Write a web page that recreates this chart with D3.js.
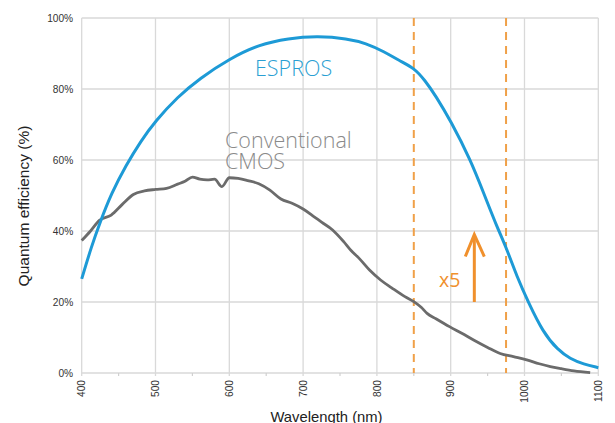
<!DOCTYPE html>
<html>
<head>
<meta charset="utf-8">
<script src="https://cdn.jsdelivr.net/npm/d3@7"></script>
<style>
  body { margin: 0; background: #fff; }
  .tick_labels { font-family: "Liberation Sans", Arial, sans-serif; font-size: 10.2px; fill: #333; }
  .axis_labels { font-family: "Liberation Sans", Arial, sans-serif; fill: #222; }
  .series_labels { font-family: "Open Sans", Lato, sans-serif; font-weight: 350; font-size: 21.5px; }
</style>
</head>
<body>
<svg id="svg-qe" width="615" height="423"></svg>
<script>
var svg = d3.select("#svg-qe");

// values: wavelength (nm) -> quantum efficiency (%)
var espros_wl = [400, 413, 425, 440, 460, 480, 500, 530, 560, 600, 640, 680, 720, 760, 785, 810, 830, 850, 865, 880, 900, 927, 945, 963, 975, 990, 1005, 1025, 1045, 1062, 1080, 1100];
var espros_qe = [26.5, 35.5, 42.5, 50.5, 58.5, 65.3, 71, 77.8, 83, 88.5, 92.5, 94.3, 94.9, 94.2, 92.9, 90.5, 88, 86, 82.5, 78, 71, 60, 50.5, 41, 35.5, 27, 20, 11.5, 6.5, 4, 2.5, 1.5];

var cmos_wl = [400, 412, 424, 440, 455, 470, 485, 500, 515, 530, 540, 550, 560, 570, 580, 590, 600, 612, 625, 640, 655, 670, 685, 700, 715, 725, 740, 755, 765, 775, 790, 805, 820, 838, 850, 860, 868, 880, 899, 915, 931, 950, 967, 985, 1003, 1020, 1035, 1050, 1067, 1089];
var cmos_qe = [37.3, 40, 43, 44.5, 47.5, 50.3, 51.3, 51.7, 52, 53.2, 54, 55.2, 54.6, 54.4, 54.6, 52.5, 55, 54.8, 54.2, 53.3, 51.5, 49, 47.8, 46.2, 44, 42.5, 40.3, 37, 34.5, 32.5, 29, 26.2, 24, 21.5, 20.1, 18.5, 16.8, 15.3, 13, 11.2, 9.3, 7.2, 5.5, 4.6, 3.7, 2.6, 1.8, 1.2, 0.6, 0.1];

var x_ticks = [400, 500, 600, 700, 800, 900, 1000, 1100];
var x_minor = [450, 550, 650, 750, 850, 950, 1050];
var y_ticks = [0, 20, 40, 60, 80, 100];
var band_wl = [850, 975];            // dashed markers
var arrow_wl = 932, arrow_qe = [20, 39];

var blue = "#1d9ad6", gray = "#6b6b6b", orange = "#f0a048", arrowOrange = "#f0902c";

var xScale = d3.scaleLinear().domain([400, 1100]).range([81.7, 598.3]);
var yScale = d3.scaleLinear().domain([0, 100]).range([373, 18]);

// grid
svg.selectAll("vgrid")
    .data(x_ticks)
    .enter()
    .append("line")
    .attr("x1", d => xScale(d))
    .attr("x2", d => xScale(d))
    .attr("y1", yScale(100))
    .attr("y2", yScale(0) + 3)
    .style("stroke", "#d9d9d9")
    .style("stroke-width", 1.3);
svg.selectAll("hgrid")
    .data(y_ticks)
    .enter()
    .append("line")
    .attr("x1", xScale(400))
    .attr("x2", xScale(1100))
    .attr("y1", d => yScale(d))
    .attr("y2", d => yScale(d))
    .style("stroke", "#d9d9d9")
    .style("stroke-width", 1.3);
svg.selectAll("minor")
    .data(x_minor)
    .enter()
    .append("line")
    .attr("x1", d => xScale(d))
    .attr("x2", d => xScale(d))
    .attr("y1", yScale(0))
    .attr("y2", yScale(0) + 3)
    .style("stroke", "#d0d0d0")
    .style("stroke-width", 1.2);

// tick labels
svg.selectAll("ylabels")
    .data(y_ticks)
    .enter()
    .append("text")
    .attr("class", "tick_labels")
    .attr("x", xScale(400) - 8.5)
    .attr("y", d => yScale(d) + 3.7)
    .style("text-anchor", "end")
    .text(d => d + "%");
svg.selectAll("xlabels")
    .data(x_ticks)
    .enter()
    .append("text")
    .attr("class", "tick_labels")
    .attr("transform", d => "translate(" + (xScale(d) + 3.7) + "," + (yScale(0) + 7) + ") rotate(-90)")
    .style("text-anchor", "end")
    .text(d => d);

// axis titles
svg.append("text")
    .attr("class", "axis_labels")
    .attr("transform", "translate(28.5,206) rotate(-90)")
    .style("text-anchor", "middle")
    .style("font-size", "15.5px")
    .text("Quantum efficiency (%)");
svg.append("text")
    .attr("class", "axis_labels")
    .attr("x", 326.5)
    .attr("y", 421.5)
    .style("text-anchor", "middle")
    .style("font-size", "14.8px")
    .text("Wavelength (nm)");

// dashed band markers
svg.selectAll("band")
    .data(band_wl)
    .enter()
    .append("line")
    .attr("x1", d => xScale(d))
    .attr("x2", d => xScale(d))
    .attr("y1", yScale(100))
    .attr("y2", yScale(0))
    .style("stroke", orange)
    .style("stroke-width", 2)
    .style("stroke-dasharray", "8, 6");

// curves
var cmos = cmos_wl.map((d, i) => [d, cmos_qe[i]]);
var espros = espros_wl.map((d, i) => [d, espros_qe[i]]);
var line = d3.line()
    .x(d => xScale(d[0]))
    .y(d => yScale(d[1]));

svg.append("path")
    .datum(cmos)
    .attr("d", line.curve(d3.curveMonotoneX))
    .style("fill", "none")
    .style("stroke", gray)
    .style("stroke-width", 2.8)
    .style("stroke-linejoin", "round");
svg.append("path")
    .datum(espros)
    .attr("d", line.curve(d3.curveBasis))
    .style("fill", "none")
    .style("stroke", blue)
    .style("stroke-width", 3);

// x5 arrow
var ax = xScale(arrow_wl), ay0 = yScale(arrow_qe[0]), ay1 = yScale(arrow_qe[1]);
svg.append("line")
    .attr("x1", ax).attr("x2", ax)
    .attr("y1", ay0).attr("y2", ay1 + 1)
    .style("stroke", arrowOrange)
    .style("stroke-width", 3);
svg.append("path")
    .attr("d", "M" + (ax - 9) + "," + (ay1 + 22) + "L" + ax + "," + ay1 + "L" + (ax + 10) + "," + (ay1 + 22))
    .style("fill", "none")
    .style("stroke", arrowOrange)
    .style("stroke-width", 3);
svg.append("text")
    .attr("class", "series_labels")
    .attr("x", 439)
    .attr("y", 287)
    .style("font-size", "19.5px")
    .style("font-weight", 400)
    .style("fill", arrowOrange)
    .text("x5");

// series labels
svg.append("text")
    .attr("class", "series_labels")
    .attr("x", 255)
    .attr("y", 75.5)
    .style("fill", "#2a9fd3")
    .text("ESPROS");
var cmosLabel = svg.append("text")
    .attr("class", "series_labels")
    .attr("y", 148)
    .style("fill", "#8a8a8a");
cmosLabel.append("tspan").attr("x", 225).text("Conventional");
cmosLabel.append("tspan").attr("x", 225).attr("dy", 20.5).text("CMOS");
</script>
</body>
</html>
